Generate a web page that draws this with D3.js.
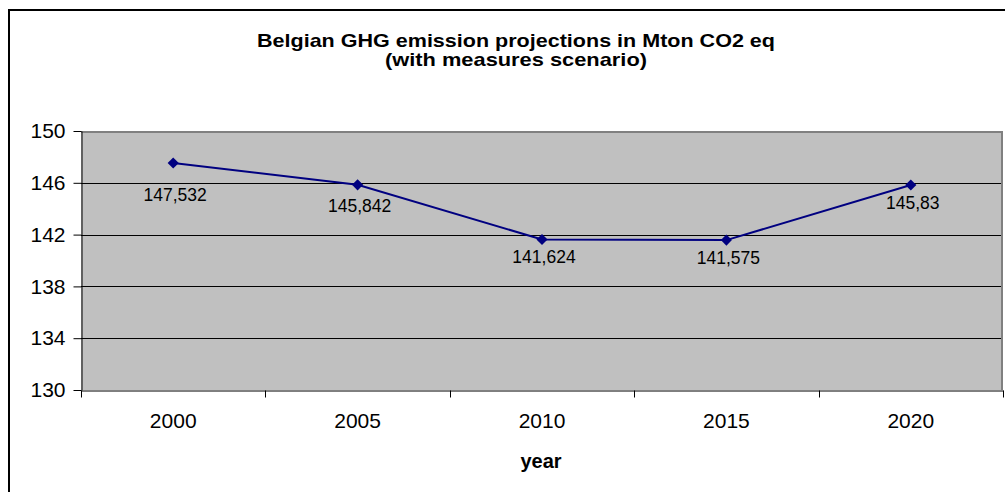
<!DOCTYPE html>
<html>
<head>
	<title>Belgian GHG emission projections</title>
	<script src="https://cdn.jsdelivr.net/npm/d3@7"></script>
	<style>
		body { margin: 0; background: #fff; }
		text { font-family: Arial, "Liberation Sans", sans-serif; }
	</style>
</head>
<body>
	<script type="text/javascript">

		// data
		var years = ["2000", "2005", "2010", "2015", "2020"];
		var emissions = [147.532, 145.842, 141.624, 141.575, 145.83];
		var labels = ["147,532", "145,842", "141,624", "141,575", "145,83"];
		var yTicks = [130, 134, 138, 142, 146, 150];

		// label nudges (first label sits lower in the original)
		var labelDy = [38, 27, 24, 24, 24];

		var width = 1005;
		var height = 492;
		var plotLeft = 81, plotRight = 1003, plotTop = 131, plotBottom = 390;

		var svg = d3.select("body").append("svg")
			.attr("width", width)
			.attr("height", height);

		// outer chart frame (runs off the image on right/bottom)
		svg.append("rect")
			.attr("x", 9).attr("y", 10)
			.attr("width", 1030).attr("height", 520)
			.attr("fill", "none")
			.attr("stroke", "#000")
			.attr("stroke-width", 2);

		var x = d3.scaleBand()
			.domain(years)
			.range([plotLeft, plotRight])
			.padding(0);

		var y = d3.scaleLinear()
			.domain([130, 150])
			.range([plotBottom, plotTop]);

		// plot background
		svg.append("rect")
			.attr("x", plotLeft).attr("y", plotTop)
			.attr("width", plotRight - plotLeft).attr("height", plotBottom - plotTop)
			.attr("fill", "#c0c0c0");

		// gridlines
		svg.selectAll("line.grid")
			.data(yTicks.filter(function (d) { return d > 130 && d < 150; }))
			.enter()
				.append("line")
				.attr("class", "grid")
				.attr("x1", plotLeft).attr("x2", plotRight)
				.attr("y1", function (d) { return Math.round(y(d)) + 0.5; })
				.attr("y2", function (d) { return Math.round(y(d)) + 0.5; })
				.attr("stroke", "#000")
				.attr("stroke-width", 1);

		// gray top / right border of plot area
		svg.append("path")
			.attr("d", "M" + plotLeft + "," + (plotTop + 1) + "H" + (plotRight - 1) + "V" + plotBottom)
			.attr("fill", "none")
			.attr("stroke", "#808080")
			.attr("stroke-width", 2);

		// y axis
		var yAxis = d3.axisLeft(y)
			.tickValues(yTicks)
			.tickSize(8)
			.tickSizeOuter(0)
			.tickPadding(8)
			.tickFormat(d3.format("d"));

		var gy = svg.append("g")
			.attr("transform", "translate(" + (plotLeft + 0.5) + ",0)")
			.call(yAxis);
		gy.selectAll("text")
			.attr("font-size", "21px")
			.attr("font-family", "Arial, 'Liberation Sans', sans-serif")
			.attr("fill", "#000");
		gy.selectAll("line, path").attr("stroke", "#000");

		// x axis: labels centred on categories, ticks between categories
		var xAxis = d3.axisBottom(x)
			.tickSize(0)
			.tickSizeOuter(0)
			.tickPadding(23);

		var gx = svg.append("g")
			.attr("transform", "translate(0," + (plotBottom + 0.5) + ")")
			.call(xAxis);
		gx.select(".domain").attr("stroke", "#000");
		gx.selectAll("text")
			.attr("font-size", "21px")
			.attr("font-family", "Arial, 'Liberation Sans', sans-serif")
			.attr("fill", "#000");

		var bounds = years.map(function (d) { return x(d); }).concat([x(years[years.length - 1]) + x.step()]);
		gx.selectAll("line.sep")
			.data(bounds)
			.enter()
				.append("line")
				.attr("class", "sep")
				.attr("x1", function (d) { return Math.round(d) + 0.5; })
				.attr("x2", function (d) { return Math.round(d) + 0.5; })
				.attr("y1", 0).attr("y2", 7)
				.attr("stroke", "#000");

		// series line
		var line = d3.line()
			.x(function (d, i) { return x(years[i]) + x.bandwidth() / 2; })
			.y(function (d) { return y(d); });

		svg.append("path")
			.datum(emissions)
			.attr("d", line)
			.attr("fill", "none")
			.attr("stroke", "#000080")
			.attr("stroke-width", 2);

		// diamond markers
		svg.selectAll("path.marker")
			.data(emissions)
			.enter()
				.append("path")
				.attr("class", "marker")
				.attr("d", d3.symbol().type(d3.symbolSquare).size(62))
				.attr("transform", function (d, i) {
					return "translate(" + (x(years[i]) + x.bandwidth() / 2) + "," + y(d) + ") rotate(45)";
				})
				.attr("fill", "#000080");

		// data labels
		svg.selectAll("text.lbl")
			.data(emissions)
			.enter()
				.append("text")
				.attr("class", "lbl")
				.attr("x", function (d, i) { return x(years[i]) + x.bandwidth() / 2 + 2; })
				.attr("y", function (d, i) { return y(d) + labelDy[i]; })
				.attr("text-anchor", "middle")
				.attr("font-size", "17.5px")
				.attr("fill", "#000")
				.text(function (d, i) { return labels[i]; });

		// title
		svg.append("text")
			.attr("x", 516).attr("y", 47)
			.attr("text-anchor", "middle")
			.attr("font-size", "19px")
			.attr("font-weight", "bold")
			.attr("textLength", 518)
			.attr("lengthAdjust", "spacingAndGlyphs")
			.text("Belgian GHG emission projections in Mton CO2 eq");

		svg.append("text")
			.attr("x", 516).attr("y", 66)
			.attr("text-anchor", "middle")
			.attr("font-size", "19px")
			.attr("font-weight", "bold")
			.attr("textLength", 262)
			.attr("lengthAdjust", "spacingAndGlyphs")
			.text("(with measures scenario)");

		// axis title
		svg.append("text")
			.attr("x", 541).attr("y", 468)
			.attr("text-anchor", "middle")
			.attr("font-size", "20px")
			.attr("font-weight", "bold")
			.text("year");

	</script>
</body>
</html>
